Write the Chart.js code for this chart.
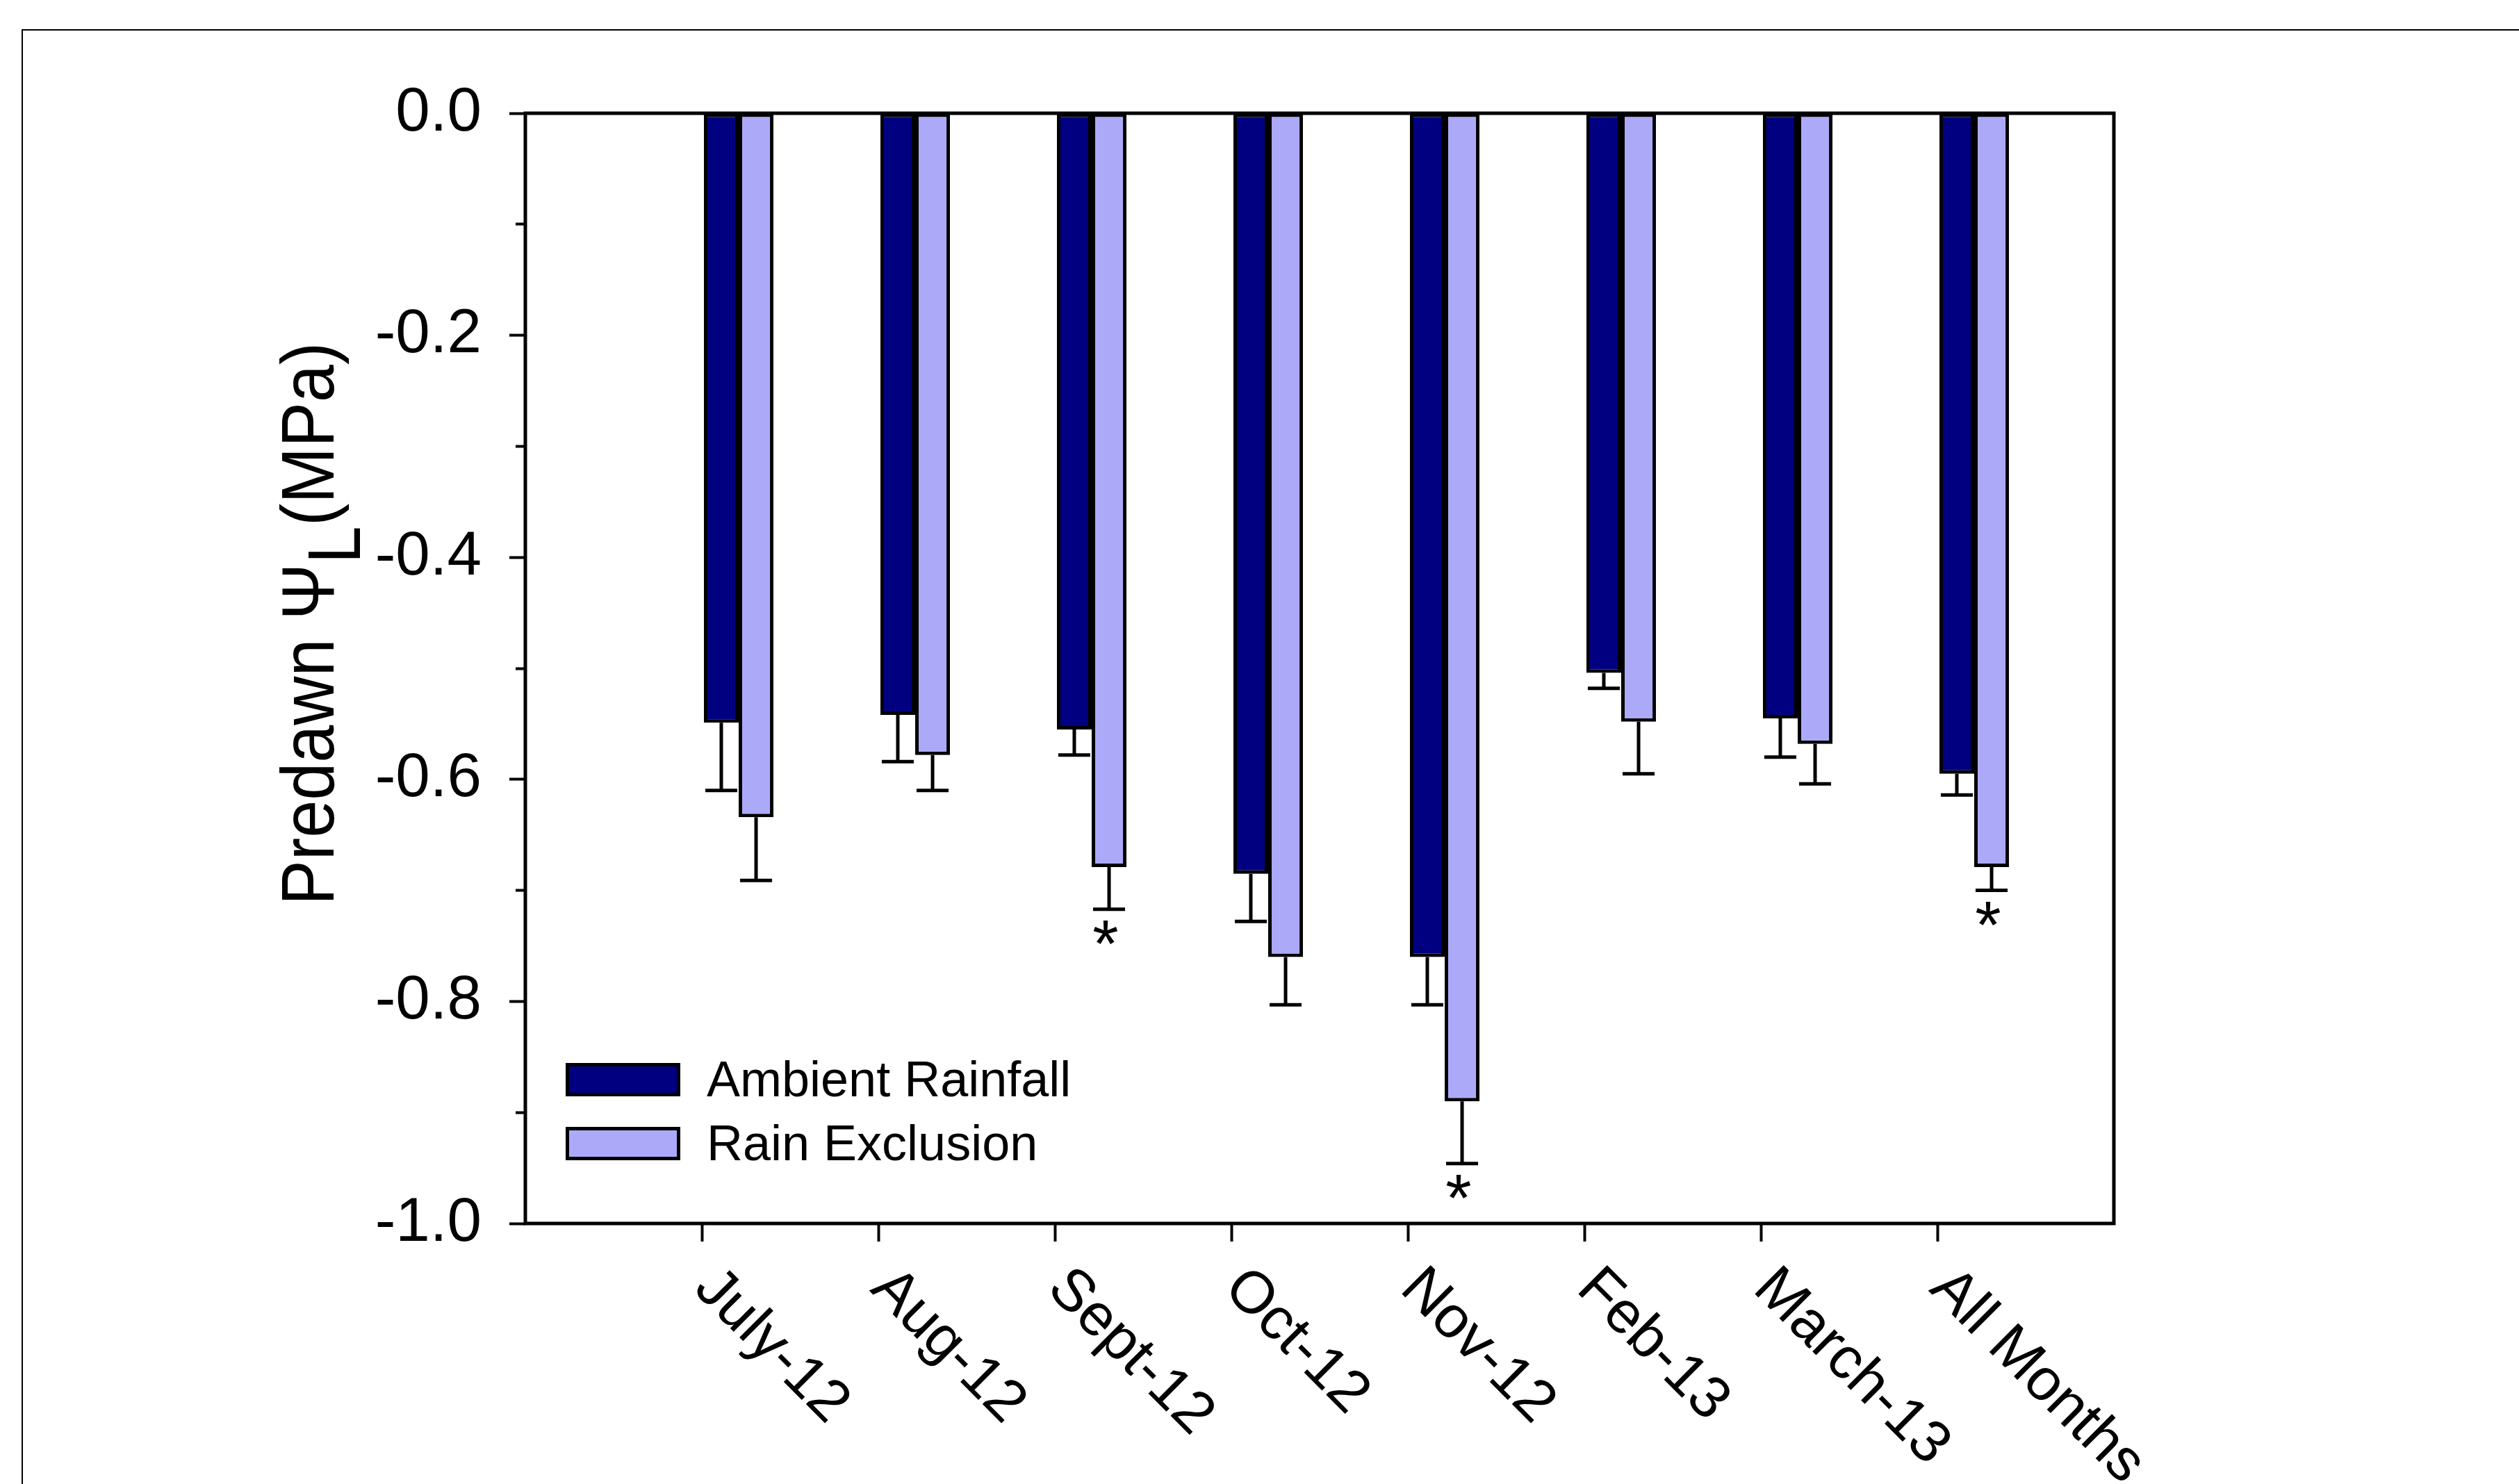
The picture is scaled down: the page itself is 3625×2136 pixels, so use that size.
<!DOCTYPE html>
<html>
<head>
<meta charset="utf-8">
<script src="https://cdn.jsdelivr.net/npm/chart.js@4.4.0/dist/chart.umd.min.js"></script>
<style>
  html, body { margin: 0; padding: 0; background: #fff; }
</style>
</head>
<body>
<canvas id="myChart" width="3625" height="2136"></canvas>
<script>
// categories on the x axis
const months = ['July-12', 'Aug-12', 'Sept-12', 'Oct-12', 'Nov-12', 'Feb-13', 'March-13', 'All Months'];

// predawn leaf water potential (MPa): means and standard errors
const ambientMean = [-0.549, -0.542, -0.555, -0.685, -0.760, -0.504, -0.545, -0.595];
const ambientErr = [0.061, 0.042, 0.023, 0.043, 0.043, 0.014, 0.035, 0.019];
const exclusionMean = [-0.634, -0.578, -0.679, -0.760, -0.890, -0.548, -0.568, -0.679];
const exclusionErr = [0.057, 0.032, 0.038, 0.043, 0.056, 0.047, 0.036, 0.021];
// asterisk under the rain exclusion bar (significant difference)
const exclusionSig = [false, false, true, false, true, false, false, true];

// y axis ticks
const yMajor = [0, -0.2, -0.4, -0.6, -0.8, -1.0];
const yMinor = [-0.1, -0.3, -0.5, -0.7, -0.9];

const FONT = '"Liberation Sans", Arial, sans-serif';
const groupShift = 0.2087; // bars sit to the right of each tick

// white page + the outer frame line
const pageFrame = {
  id: 'pageFrame',
  beforeDraw(chart) {
    const ctx = chart.ctx;
    ctx.save();
    ctx.fillStyle = '#fff';
    ctx.fillRect(0, 0, chart.width, chart.height);
    ctx.strokeStyle = '#000';
    ctx.lineWidth = 2;
    ctx.beginPath();
    ctx.moveTo(32, chart.height + 5);
    ctx.lineTo(32, 43);
    ctx.lineTo(chart.width + 5, 43);
    ctx.stroke();
    ctx.restore();
  }
};

// one-sided error bars, asterisks and the plot box
const errorBars = {
  id: 'errorBars',
  afterDatasetsDraw(chart) {
    const ctx = chart.ctx, y = chart.scales.y;
    const sets = [[ambientMean, ambientErr, null], [exclusionMean, exclusionErr, exclusionSig]];
    ctx.save();
    ctx.strokeStyle = '#000';
    ctx.fillStyle = '#000';
    ctx.lineWidth = 5;
    sets.forEach(([mean, err, sig], d) => {
      chart.getDatasetMeta(d).data.forEach((bar, i) => {
        const tip = y.getPixelForValue(mean[i] - err[i]);
        const half = (bar.width - 4) / 2;
        ctx.beginPath();
        ctx.moveTo(bar.x, bar.y);
        ctx.lineTo(bar.x, tip);
        ctx.moveTo(bar.x - half, tip);
        ctx.lineTo(bar.x + half, tip);
        ctx.stroke();
        if (sig && sig[i]) {
          ctx.font = '96px ' + FONT;
          ctx.textAlign = 'center';
          ctx.textBaseline = 'alphabetic';
          ctx.fillText('*', bar.x - 5, tip + 82);
        }
      });
    });
    const a = chart.chartArea;
    ctx.lineWidth = 5;
    ctx.strokeRect(a.left, a.top, a.right - a.left, a.bottom - a.top);
    ctx.restore();
  }
};

// rotated month labels, y title with subscript, legend inside the plot
const decorations = {
  id: 'decorations',
  afterDraw(chart) {
    const ctx = chart.ctx, xs = chart.scales.x, a = chart.chartArea;
    ctx.save();
    ctx.fillStyle = '#000';
    ctx.font = '85px ' + FONT;
    ctx.textAlign = 'left';
    ctx.textBaseline = 'middle';
    months.forEach((m, i) => {
      ctx.save();
      ctx.translate(xs.getPixelForValue(i + 1) + 3, a.bottom + 80);
      ctx.rotate(Math.PI / 4);
      ctx.fillText(m, 0, 0);
      ctx.restore();
    });

    // y axis title
    ctx.save();
    ctx.translate(480, 1303);
    ctx.rotate(-Math.PI / 2);
    ctx.scale(0.9, 1);
    ctx.font = '108px ' + FONT;
    ctx.textBaseline = 'alphabetic';
    let tx = 0;
    ctx.fillText('Predawn \u03A8', tx, 0);
    tx += ctx.measureText('Predawn \u03A8').width;
    ctx.fillText('L', tx, 38);
    tx += ctx.measureText('L').width;
    ctx.fillText('(MPa)', tx, 0);
    ctx.restore();

    // legend
    ctx.font = '72px ' + FONT;
    ctx.textBaseline = 'alphabetic';
    chart.data.datasets.forEach((ds, k) => {
      const top = 1530 + k * 92;
      ctx.fillStyle = ds.backgroundColor;
      ctx.fillRect(814, top, 165, 48);
      ctx.lineWidth = 5;
      ctx.strokeStyle = '#000';
      ctx.strokeRect(816.5, top + 2.5, 160, 43);
      ctx.fillStyle = '#000';
      ctx.fillText(ds.label, 1017, top + 48);
    });
    ctx.restore();
  }
};

const isMajor = v => yMajor.includes(v);

new Chart(document.getElementById('myChart'), {
  type: 'bar',
  data: {
    datasets: [
      {
        label: 'Ambient Rainfall',
        data: months.map((m, i) => ({x: i + 1 + groupShift, y: ambientMean[i]})),
        backgroundColor: '#000080',
        borderColor: '#000',
        borderWidth: 5,
        borderSkipped: false
      },
      {
        label: 'Rain Exclusion',
        data: months.map((m, i) => ({x: i + 1 + groupShift, y: exclusionMean[i]})),
        backgroundColor: '#ACAAF8',
        borderColor: '#000',
        borderWidth: 5,
        borderSkipped: false
      }
    ]
  },
  options: {
    responsive: false,
    animation: false,
    devicePixelRatio: 1,
    categoryPercentage: 0.394,
    barPercentage: 1,
    layout: {padding: {left: 0, top: 163, right: 583, bottom: 0}},
    plugins: {legend: {display: false}, tooltip: {enabled: false}},
    scales: {
      x: {
        type: 'linear',
        min: 0,
        max: 9,
        offset: false,
        afterBuildTicks: s => { s.ticks = months.map((m, i) => ({value: i + 1})); },
        ticks: {display: false},
        grid: {offset: false, drawOnChartArea: false, drawTicks: true, tickLength: 26, tickWidth: 4, tickColor: '#000'},
        border: {display: false},
        afterFit: s => { s.height = 375; }
      },
      y: {
        min: -1,
        max: 0,
        afterBuildTicks: s => {
          s.ticks = yMajor.concat(yMinor).sort((p, q) => p - q).map(v => ({value: v}));
        },
        ticks: {
          autoSkip: false,
          padding: 40,
          color: '#000',
          font: {family: FONT, size: 89},
          callback: v => isMajor(v) ? v.toFixed(1) : ''
        },
        grid: {
          drawOnChartArea: false,
          drawTicks: true,
          tickLength: 23,
          tickWidth: 4,
          tickColor: '#000',
          tickBorderDash: c => (c.tick && !isMajor(c.tick.value)) ? [0, 9, 14, 0] : []
        },
        border: {display: false},
        afterFit: s => { s.width = 756; }
      }
    }
  },
  plugins: [pageFrame, errorBars, decorations]
});
</script>
</body>
</html>
